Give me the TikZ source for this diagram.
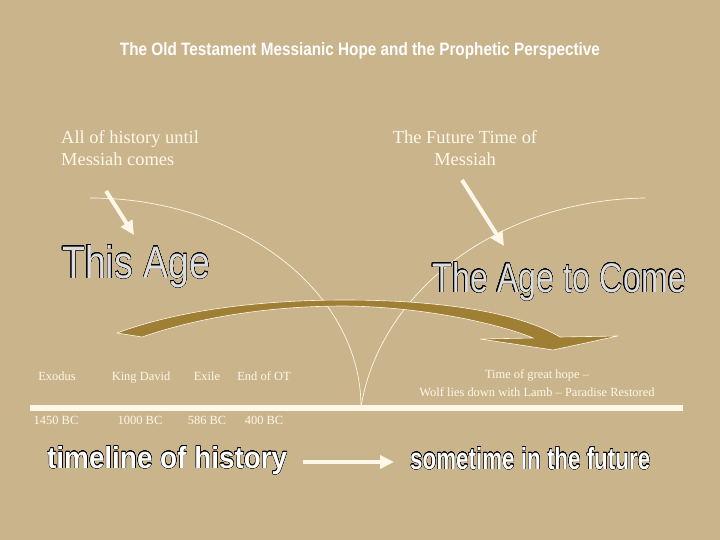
\documentclass[tikz,border=0pt]{standalone}
\usepackage{fontspec}
\usepackage{xcolor}
\usepackage{graphicx}
\usepackage{contour}
\usetikzlibrary{arrows.meta}
\setmainfont{Liberation Serif}
\newfontfamily\arialfont{Liberation Sans}
\definecolor{tanbg}{HTML}{C9B48C}
\definecolor{gold}{HTML}{9E7F33}
\definecolor{cream}{HTML}{FFF8E8}
\definecolor{hollow}{HTML}{DCDCDC}
\contourlength{0.3pt}
\contournumber{24}

\begin{document}
\begin{tikzpicture}[x=1bp,y=-1bp,
	lbl/.style={text=cream,font=\fontsize{12.5}{14}\selectfont,inner sep=0pt,anchor=base},
	bigtxt/.style={text=cream,font=\fontsize{18.5}{22}\selectfont,inner sep=0pt},
	pointer/.style={cream,line width=4bp,-{Triangle[length=14bp,width=13bp]}},
	thinarc/.style={cream,line width=0.7bp}]
	% background and frame of the slide
	\fill[tanbg] (0,0) rectangle (720,540);
	\useasboundingbox (0,0) rectangle (720,540);
	
	\node[anchor=base,text=white,inner sep=0pt] (title) at (360,56)
	{\resizebox{480bp}{13bp}{\arialfont\bfseries The Old Testament Messianic Hope and the Prophetic Perspective}};
	
	\node[bigtxt,anchor=north west,align=left] (histtxt) at (61,130)
	{All of history until\\Messiah comes};
	\node[bigtxt,anchor=north,align=center] (futtxt) at (465,130)
	{The Future Time of\\Messiah};
	
	% the two ages meeting at the cusp
	\coordinate (lstart) at (90,198);
	\coordinate (rstart) at (645,198);
	\coordinate (cusp) at (361,407);
	\draw[thinarc] (lstart) .. controls (240,198) and (361,292) .. (cusp);
	\draw[thinarc] (rstart) .. controls (500,200) and (380,290) .. (cusp);
	
	\coordinate (p1s) at (106,191);
	\coordinate (p1e) at (134,235);
	\coordinate (p2s) at (462,180);
	\coordinate (p2e) at (504,246);
	\draw[pointer] (p1s) -- (p1e);
	\draw[pointer] (p2s) -- (p2e);
	
	\node[anchor=base west,inner sep=0pt] (thisage) at (62,278)
	{\resizebox{148bp}{33bp}{\arialfont\fontsize{40}{40}\selectfont\contour{black}{\textcolor{hollow}{This Age}}}};
	\node[anchor=base west,inner sep=0pt] (agecome) at (432,292)
	{\resizebox{254bp}{30bp}{\arialfont\fontsize{40}{40}\selectfont\contour{black}{\textcolor{hollow}{The Age to Come}}}};
	
	% golden sweep from this age into the age to come
	\filldraw[fill=gold,draw=cream,line width=0.6bp]
	(117,333) .. controls (190,306) and (280,300) .. (345,300)
	.. controls (430,300) and (515,310) .. (560,337)
	-- (618,336) -- (553,350) -- (507,343) -- (480,339) -- (533,338)
	.. controls (505,326) and (430,307) .. (345,306)
	.. controls (270,306) and (200,317) .. (142,337) -- cycle;
	
	% timeline
	\coordinate (tl0) at (30,408);
	\coordinate (tl1) at (683,408);
	\draw[cream,line width=6bp] (tl0) -- (tl1);
	
	\node[lbl] (exodus) at (57,380) {Exodus};
	\node[lbl] (david) at (141,380) {King David};
	\node[lbl] (exile) at (207,380) {Exile};
	\node[lbl] (endot) at (264,380) {End of OT};
	\node[lbl] (y1450) at (56,424) {1450 BC};
	\node[lbl] (y1000) at (140,424) {1000 BC};
	\node[lbl] (y586) at (207,424) {586 BC};
	\node[lbl] (y400) at (264,424) {400 BC};
	\node[text=cream,inner sep=0pt,align=center,font=\fontsize{12.5}{18}\selectfont] (hope) at (537,383)
	{Time of great hope --\\Wolf lies down with Lamb -- Paradise Restored};
	
	\node[anchor=base west,inner sep=0pt] (histlbl) at (47,468)
	{\resizebox{240bp}{22bp}{\arialfont\bfseries\fontsize{30}{30}\selectfont\contour{black}{\textcolor{white}{timeline of history}}}};
	\node[anchor=base west,inner sep=0pt] (futlbl) at (410,469)
	{\resizebox{240bp}{22bp}{\arialfont\bfseries\fontsize{30}{30}\selectfont\contour{black}{\textcolor{white}{sometime in the future}}}};
	\coordinate (a0) at (303,462);
	\coordinate (a1) at (394,462);
	\draw[pointer] (a0) -- (a1);
\end{tikzpicture}
\end{document}
